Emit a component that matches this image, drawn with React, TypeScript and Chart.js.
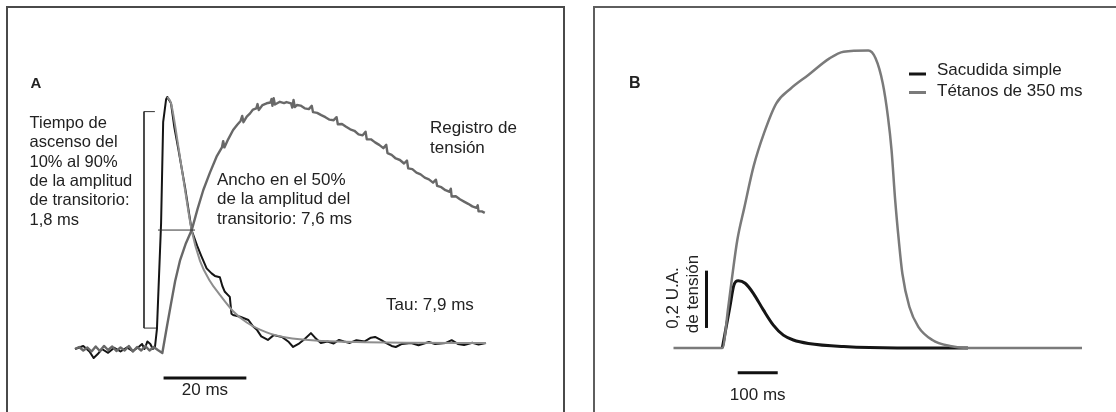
import { useEffect, useRef } from "react";
import { Chart, registerables } from "chart.js";
Chart.register(...registerables);

// ---------- Panel A (time in ms, normalised amplitude) ----------
const transientTime = [0, 2, 3.5, 4.5, 5.5, 6.5, 8, 9.5, 11, 12.5, 14, 15.5, 16.2, 16.8, 17.5, 18.2, 18.8, 19.3, 19.8, 20.8, 21.3, 22.0, 22.3, 23.2, 24, 25, 26.6, 28.2, 29.5, 30.5, 31.8, 33, 33.8, 35, 35.6, 36.2, 37.4, 37.8, 38.2, 39.9, 41.9, 43, 44, 45, 46.6, 48, 50, 51.5, 52.7, 54, 55.5, 57, 58, 59.4, 61, 62.5, 63.8, 65, 66.4, 68, 70, 71.5, 72.5, 74, 75.1, 76.5, 77.5, 79, 81.2, 83, 85.5, 87, 89.6, 91, 92.5, 94, 96, 97.5, 99.3];
const transientValue = [0, 0.012, -0.01, -0.036, -0.02, 0.0, -0.015, 0.005, -0.01, 0.006, -0.008, 0.01, 0.02, 0.0, 0.03, 0.02, 0.0, 0.005, 0.08, 0.5, 0.9, 0.99, 1.0, 0.975, 0.88, 0.79, 0.64, 0.47, 0.41, 0.37, 0.32, 0.30, 0.29, 0.285, 0.25, 0.227, 0.207, 0.14, 0.135, 0.128, 0.115, 0.09, 0.075, 0.05, 0.036, 0.055, 0.048, 0.03, 0.008, 0.02, 0.04, 0.063, 0.045, 0.024, 0.03, 0.022, 0.036, 0.03, 0.024, 0.035, 0.03, 0.045, 0.048, 0.035, 0.024, 0.012, 0.008, 0.02, 0.024, 0.015, 0.028, 0.02, 0.024, 0.035, 0.02, 0.016, 0.025, 0.018, 0.024];

const fitTime = [22.3, 23.2, 25.0, 26.6, 28.2, 30.2, 32.6, 35, 38.2, 41.5, 46.3, 51, 60, 70, 80, 99.3];
const fitValue = [1.0, 0.975, 0.80, 0.63, 0.47, 0.35, 0.27, 0.215, 0.15, 0.105, 0.066, 0.046, 0.032, 0.027, 0.025, 0.024];

const tensionTime = [0, 1, 2, 3, 4, 5, 6, 7, 8, 9, 10, 11, 12, 13, 14, 15, 16, 17, 18, 19, 20, 21.1, 22.2, 23.2, 24.2, 25.4, 26.8, 28.2, 29.6, 31.0, 32.6, 34.2, 35.5, 35.8, 36.1, 37, 38.2, 39.2, 40, 40.4, 40.7, 41.5, 42.3, 43, 43.8, 44.1, 44.4, 45.3, 46.3, 47.2, 47.5, 47.7, 48, 48.3, 49.5, 50.5, 51.1, 52.2, 52.5, 52.8, 53.1, 53.6, 54.5, 55.5, 56.5, 57.2, 57.5, 58.5, 59.5, 60.5, 61.5, 62.5, 63.2, 63.5, 64.5, 65.5, 66.5, 67.5, 68.5, 69.5, 70.2, 70.5, 71.5, 72.5, 73.5, 74.5, 75.2, 75.5, 76.5, 77.5, 78.5, 79.5, 80.2, 80.5, 81.5, 82.5, 83.5, 84.5, 85.5, 86.5, 87.2, 87.5, 88.5, 89.5, 90.5, 90.8, 91, 92, 93, 94, 95, 96, 97, 97.3, 97.5, 98.3, 99];
const tensionValue = [0, 0.008, -0.006, 0.006, -0.01, 0.01, -0.008, 0.012, -0.004, 0.01, -0.008, 0.006, -0.006, 0.012, -0.01, 0.008, -0.006, 0.012, -0.006, 0.008, -0.004, -0.016, 0.088, 0.18, 0.27, 0.353, 0.42, 0.472, 0.555, 0.631, 0.70, 0.763, 0.80, 0.825, 0.80, 0.832, 0.869, 0.89, 0.905, 0.925, 0.9, 0.922, 0.935, 0.95, 0.955, 0.972, 0.948, 0.968, 0.975, 0.978, 0.992, 0.965, 0.995, 0.97, 0.981, 0.976, 0.98, 0.975, 0.958, 0.988, 0.96, 0.968, 0.966, 0.955, 0.952, 0.965, 0.94, 0.937, 0.928, 0.92, 0.91, 0.908, 0.92, 0.892, 0.893, 0.882, 0.872, 0.866, 0.852, 0.848, 0.862, 0.832, 0.832, 0.82, 0.81, 0.797, 0.81, 0.777, 0.77, 0.756, 0.75, 0.736, 0.748, 0.717, 0.714, 0.7, 0.693, 0.68, 0.673, 0.66, 0.672, 0.647, 0.642, 0.63, 0.624, 0.636, 0.605, 0.606, 0.594, 0.585, 0.576, 0.566, 0.56, 0.57, 0.546, 0.546, 0.54];

const riseBracketTime = [19.3, 16.67, 16.67, 19.6];
const riseBracketValue = [0.942, 0.942, 0.083, 0.083];
const halfWidthTime = [20.05, 29.0];
const halfWidthValue = [0.472, 0.472];
const scaleBarATime = [21.4, 41.4];
const scaleBarAValue = [-0.115, -0.115];

const textLeftA = ["Tiempo de", "ascenso del", "10% al 90%", "de la amplitud", "de transitorio:", "1,8 ms"];
const textWidthA = ["Ancho en el 50%", "de la amplitud del", "transitorio: 7,6 ms"];
const textTensionA = ["Registro de", "tensión"];
const textTauA = "Tau: 7,9 ms";
const scaleLabelA = "20 ms";

// ---------- Panel B (time in ms, arbitrary units) ----------
const tetanusTime = [0, 122, 137, 145.5, 159.5, 177, 200, 226, 257, 292.5, 337, 390, 425, 487, 505, 523, 536, 545, 554, 563, 572, 589.5, 612, 647, 691, 736, 1021];
const tetanusValue = [0, 0, 0.144, 0.237, 0.377, 0.49, 0.633, 0.749, 0.854, 0.905, 0.953, 1.011, 1.034, 1.038, 1.011, 0.924, 0.807, 0.691, 0.517, 0.377, 0.26, 0.144, 0.074, 0.028, 0.007, 0, 0];
const twitchTime = [122, 141, 151, 162, 179, 199.5, 224.5, 249.5, 274.5, 299.5, 337, 425.5, 559, 736];
const twitchValue = [0, 0.144, 0.22, 0.235, 0.226, 0.191, 0.133, 0.08, 0.045, 0.028, 0.016, 0.005, 0.0, 0.0];
const legendLabelsB = ["Sacudida simple", "Tétanos de 350 ms"];
const ampBarTime = [82.5, 82.5];
const ampBarValue = [0.07, 0.27];
const scaleBarBTime = [160.5, 260.5];
const scaleBarBValue = [-0.086, -0.086];
const ampLabelB = ["0,2 U.A.", "de tensión"];
const scaleLabelB = "100 ms";

const W = 1116;
const H = 412;
const FONT = "'Liberation Sans', Arial, Helvetica, sans-serif";
const TEXT = "#222";

const pts = (xs: number[], ys: number[]) => xs.map((x, i) => ({ x, y: ys[i] }));

function lineDs(label: string, xs: number[], ys: number[], color: string, width: number, order: number, smooth = false) {
  return {
    label,
    data: pts(xs, ys),
    borderColor: color,
    backgroundColor: color,
    borderWidth: width,
    pointRadius: 0,
    showLine: true,
    fill: false,
    tension: 0,
    cubicInterpolationMode: smooth ? ("monotone" as const) : ("default" as const),
    borderJoinStyle: "round" as const,
    clip: false as const,
    order,
  };
}

function baseOptions(pad: { left: number; right: number; top: number; bottom: number }, xr: [number, number], yr: [number, number]) {
  return {
    responsive: false,
    animation: false as const,
    events: [] as any[],
    layout: { padding: pad },
    plugins: { legend: { display: false }, tooltip: { enabled: false } },
    scales: {
      x: { type: "linear" as const, min: xr[0], max: xr[1], display: false },
      y: { type: "linear" as const, min: yr[0], max: yr[1], display: false },
    },
  };
}

const textPluginA = {
  id: "textA",
  afterDatasetsDraw(chart: any) {
    const ctx = chart.ctx;
    const xs = chart.scales.x;
    ctx.save();
    ctx.fillStyle = TEXT;
    ctx.textBaseline = "middle";
    ctx.textAlign = "left";
    ctx.font = `bold 15px ${FONT}`;
    ctx.fillText("A", 30.5, 84);
    ctx.font = `16.5px ${FONT}`;
    textLeftA.forEach((t, i) => ctx.fillText(t, 29.5, 123.3 + i * 19.35));
    ctx.font = `17px ${FONT}`;
    textWidthA.forEach((t, i) => ctx.fillText(t, 217, 180 + i * 19.5));
    textTensionA.forEach((t, i) => ctx.fillText(t, 430, 128.5 + i * 20));
    ctx.fillText(textTauA, 386, 305);
    ctx.textAlign = "center";
    const cx = (xs.getPixelForValue(scaleBarATime[0]) + xs.getPixelForValue(scaleBarATime[1])) / 2;
    ctx.fillText(scaleLabelA, cx, 390);
    ctx.restore();
  },
};

const textPluginB = {
  id: "textB",
  afterDatasetsDraw(chart: any) {
    const ctx = chart.ctx;
    const xs = chart.scales.x;
    const ds = chart.data.datasets;
    ctx.save();
    ctx.fillStyle = TEXT;
    ctx.textBaseline = "middle";
    ctx.textAlign = "left";
    ctx.font = `bold 16px ${FONT}`;
    ctx.fillText("B", 629, 84);
    // legend
    ctx.font = `17px ${FONT}`;
    legendLabelsB.forEach((lab, i) => {
      const d = ds.find((q: any) => q.label === lab);
      const y = 74 + i * 18.5;
      ctx.strokeStyle = d ? d.borderColor : "#000";
      ctx.lineWidth = 3;
      ctx.beginPath();
      ctx.moveTo(909, y);
      ctx.lineTo(926, y);
      ctx.stroke();
      ctx.fillText(lab, 937, 70.7 + i * 21);
    });
    // rotated amplitude label
    ctx.textAlign = "center";
    ctx.save();
    ctx.translate(673.5, 298);
    ctx.rotate(-Math.PI / 2);
    ctx.fillText(ampLabelB[0], 0, 0);
    ctx.restore();
    ctx.save();
    ctx.translate(693.5, 294);
    ctx.rotate(-Math.PI / 2);
    ctx.fillText(ampLabelB[1], 0, 0);
    ctx.restore();
    const cx = (xs.getPixelForValue(scaleBarBTime[0]) + xs.getPixelForValue(scaleBarBTime[1])) / 2;
    ctx.fillText(scaleLabelB, cx, 395);
    ctx.restore();
  },
};

export default function App() {
  const refA = useRef<HTMLCanvasElement>(null);
  const refB = useRef<HTMLCanvasElement>(null);

  useEffect(() => {
    const chartA = new Chart(refA.current as HTMLCanvasElement, {
      type: "scatter",
      data: {
        datasets: [
          lineDs("Transitorio", transientTime, transientValue, "#151515", 2, 3),
          lineDs("Ajuste", fitTime, fitValue, "#8e8e8e", 2, 2, true),
          lineDs("Registro de tensión", tensionTime, tensionValue, "#686868", 2.4, 1),
          lineDs("bracket", riseBracketTime, riseBracketValue, "#333", 1, 0),
          lineDs("50%", halfWidthTime, halfWidthValue, "#333", 1, 0),
          lineDs("20 ms", scaleBarATime, scaleBarAValue, "#111", 3, 0),
        ],
      },
      options: baseOptions({ left: 75, right: W - 486, top: 84.4, bottom: H - 386.8 }, [0, 99.3], [-0.15, 1.05]) as any,
      plugins: [textPluginA],
    });
    const chartB = new Chart(refB.current as HTMLCanvasElement, {
      type: "scatter",
      data: {
        datasets: [
          lineDs("Sacudida simple", twitchTime, twitchValue, "#151515", 3, 2, true),
          lineDs("Tétanos de 350 ms", tetanusTime, tetanusValue, "#7a7a7a", 2.5, 1, true),
          lineDs("0,2 U.A.", ampBarTime, ampBarValue, "#111", 3, 0),
          lineDs("100 ms", scaleBarBTime, scaleBarBValue, "#111", 3, 0),
        ],
      },
      options: baseOptions({ left: 673.5, right: W - 1082, top: 32.85, bottom: H - 376.65 }, [0, 1021], [-0.1, 1.1]) as any,
      plugins: [textPluginB],
    });
    return () => {
      chartA.destroy();
      chartB.destroy();
    };
  }, []);

  const canvasStyle: any = { position: "absolute", left: 0, top: 0, width: W, height: H };
  return (
    <div style={{ position: "fixed", left: 0, top: 0, width: W, height: H, overflow: "hidden", background: "#fff" }}>
      <div style={{ position: "absolute", left: 6, top: 6, width: 559, height: 430, boxSizing: "border-box", border: "2px solid #4a4a4a" }} />
      <div style={{ position: "absolute", left: 593, top: 6, width: 560, height: 430, boxSizing: "border-box", border: "2px solid #5e5e5e" }} />
      <canvas ref={refA} width={W} height={H} style={canvasStyle} />
      <canvas ref={refB} width={W} height={H} style={canvasStyle} />
    </div>
  );
}
